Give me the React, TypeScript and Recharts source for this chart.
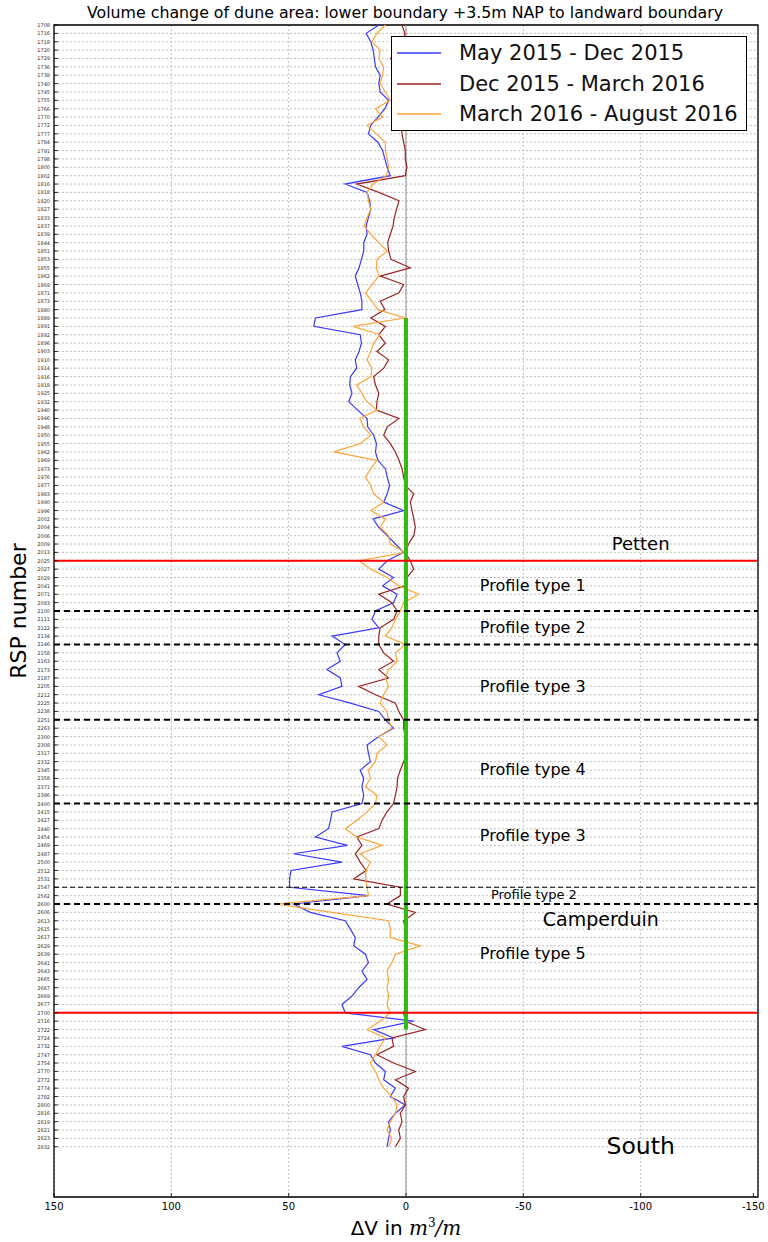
import {
  LineChart,
  Line,
  XAxis,
  YAxis,
  CartesianGrid,
  ReferenceLine,
  ReferenceDot,
  ReferenceArea,
  Legend,
  Customized,
} from "recharts";

const FONT = "DejaVu Sans, sans-serif";

const rspNumbers = [
  1708, 1716, 1718, 1720, 1729, 1736, 1738, 1740, 1745, 1755,
  1766, 1770, 1772, 1777, 1784, 1791, 1798, 1800, 1802, 1816,
  1818, 1820, 1827, 1833, 1837, 1839, 1844, 1851, 1853, 1855,
  1862, 1869, 1871, 1873, 1880, 1889, 1891, 1892, 1896, 1903,
  1910, 1914, 1916, 1918, 1925, 1932, 1940, 1946, 1948, 1950,
  1955, 1962, 1969, 1973, 1976, 1977, 1983, 1990, 1996, 2002,
  2004, 2006, 2009, 2013, 2025, 2027, 2029, 2041, 2071, 2083,
  2100, 2111, 2122, 2134, 2146, 2158, 2163, 2173, 2187, 2205,
  2212, 2225, 2238, 2251, 2263, 2300, 2308, 2317, 2332, 2345,
  2358, 2371, 2386, 2400, 2415, 2427, 2440, 2454, 2469, 2487,
  2500, 2512, 2531, 2547, 2562, 2600, 2606, 2613, 2615, 2617,
  2629, 2639, 2641, 2643, 2665, 2667, 2669, 2677, 2700, 2716,
  2722, 2724, 2732, 2747, 2754, 2770, 2772, 2774, 2782, 2800,
  2816, 2819, 2821, 2823, 2832,
];

// dV in m3/m per profile
const mayDec2015 = [
  11.6, 17, 15, 14, 13.5, 13, 11, 11.6, 11, 7.4,
  9, 12, 15, 16, 12, 10, 9, 8, 6.7, 26,
  16.6, 15.5, 15, 16, 17, 16.6, 18, 18, 19, 20,
  21.6, 20.6, 19.5, 18.8, 18.8, 38.6, 39.3, 19.5, 19, 20,
  21.6, 21, 23.7, 24, 23, 24.4, 20.6, 16.6, 16.3, 13.8,
  12.6, 13, 12, 8.8, 8, 7, 8, 9.5, 1, 14,
  11.6, 8, 4.5, 1, 8, 11.6, 5.3, 10, 3.8, 5.3,
  13, 14.5, 11.6, 31.5, 25.9, 29.4, 28, 33.7, 28, 27.3,
  37.2, 23.7, 11.6, 8.8, 5.3, 11.6, 16.6, 16, 15.2, 19.5,
  18, 18.8, 18, 18.8, 31.5, 32.2, 33, 38.6, 25, 47.9,
  27.3, 49, 49.6, 49.6, 16, 47.9, 40.8, 25.9, 23.7, 21.6,
  22.3, 17.3, 16, 18.8, 16.6, 20.2, 23, 27.3, 25.9, -3.3,
  13.8, 5.3, 27.3, 15.2, 13, 8.8, 9.5, 4.5, 6.7, 0.3,
  4.5, 7.4, 6.7, 7.4, 8.1,
];

const dec2015Mar2016 = [
  1.7, 0.5, 1, 3, 6.6, 3, 2, 2, 1.5, 2,
  1, 1.5, 2, 1.7, 1, 0.3, 0.3, -0.4, 0.3, 21,
  11.6, 3, 4, 5, 5.5, 6.7, 7.8, 7.4, 6.4, -1.8,
  11, 1, 3, 11, 9, 15, 8.8, 11.6, 8.8, 12.4,
  7.4, 9.5, 13.8, 13, 11.6, 12.4, 12.6, 3, 8, 9.5,
  6.7, 4.5, 3, 1.7, 1, 0.3, -3.3, -1.8, -2.6, -3.3,
  -4, -3.3, -1.1, 0.3, -1.8, -3.3, -0.4, 0.5, 11.6, 6,
  3.8, 5.3, 11, 11.6, 11.6, 9.5, 5.3, 11.6, 7.4, 20.2,
  13, 4.5, 3.1, 1, 1, 0.3, -0.4, -0.4, 1, 2.4,
  3.6, 3.8, 4.5, 5.3, 8.1, 10.2, 11.6, 20.9, 18.8, 21.6,
  19.5, 17, 22.3, 2.4, 2.4, 8.1, -4, 1, 0.3, 0,
  0, 0.3, 0, -0.5, 0, 0.3, 0, 0, 1, 0.3,
  -8.2, 6, 5.3, 12.4, 5.3, -4, 4.5, -1.1, 1, 0.3,
  2.4, 1.7, 3.1, 2.4, 4.5,
];

const mar2016Aug2016 = [
  8.8, 12.4, 14.5, 11, 11.6, 9.5, 10, 11, 8.8, 6.7,
  13, 10, 16.6, 12.6, 8.8, 8.8, 8, 7.4, 8.4, 14,
  16.6, 16, 15, 16.6, 17.8, 15, 11.6, 8, 12.4, 12.6,
  11.6, 14.5, 17.3, 14.5, 12, 0.3, 22.6, 11, 13.8, 15,
  16.6, 14.5, 15, 21, 18.8, 16.6, 12.4, 19.7, 18, 15,
  19.5, 30.8, 12.4, 15, 17.3, 15, 13.8, 9.5, 15, 8.8,
  11, 7.4, 6.7, 0.3, 20, 15, 8, 3, -5.4, 1,
  2.4, 4.5, 6, 8.8, 0.3, 4.5, 3.8, 7.4, 8.8, 7.4,
  9.5, 11, 8.1, 7.4, 6, 11.6, 8.1, 12.4, 13, 16,
  15.2, 17.3, 12.4, 13, 16.6, 20.9, 25.9, 20.9, 10.2, 19.5,
  15.2, 17, 17.3, 16.6, 16, 55.7, 31.5, 7.4, 6.7, 6.7,
  -6.1, 4.5, 6, 8.1, 7.4, 8.1, 7.4, 8.1, 6.7, 11,
  16.6, 8.8, 11, 13, 15.2, 13, 11.6, 9.5, 6, 3.8,
  4.5, 6.7, 8.1, 6, 7.4,
];

const seriesNames = [
  "May 2015 - Dec 2015",
  "Dec 2015 - March 2016",
  "March 2016 - August 2016",
];
const seriesColors = ["#3a3aff", "#9b2222", "#ffa436"];

const xTicks = [150, 100, 50, 0, -50, -100, -150];
const sectionBounds = [2025, 2700];
const profileBreaks = [2100, 2146, 2251, 2400, 2600];
const minorBreaks = [2547];
const stableStretches = [
  [1889, 2025],
  [2547, 2722],
];

// text labels: x in m3/m, row as position along the RSP axis
const annotations = [
  { text: "Petten", x: -100, row: 61.9, size: 18 },
  { text: "Profile type 1", x: -54, row: 66.9, size: 16 },
  { text: "Profile type 2", x: -54, row: 71.9, size: 16 },
  { text: "Profile type 3", x: -54, row: 79, size: 16 },
  { text: "Profile type 4", x: -54, row: 88.9, size: 16 },
  { text: "Profile type 3", x: -54, row: 96.8, size: 16 },
  { text: "Profile type 2", x: -54.5, row: 103.9, size: 13 },
  { text: "Camperduin", x: -83, row: 106.8, size: 19 },
  { text: "Profile type 5", x: -54, row: 110.9, size: 16 },
  { text: "South", x: -100, row: 133.9, size: 23.5 },
];

const rowOf = (rsp: number) => rspNumbers.indexOf(rsp);

const data = rspNumbers.map((rsp, i) => ({
  row: i,
  rsp,
  a: mayDec2015[i],
  b: dec2015Mar2016[i],
  c: mar2016Aug2016[i],
  stable: stableStretches.some(([s, e]) => rsp >= s && rsp <= e) ? 0 : null,
}));

const RspTick = ({ x, y, payload }: any) => (
  <g>
    <text
      x={x}
      y={y}
      textAnchor="end"
      dominantBaseline="central"
      fontSize={5}
      fill="#333"
      fontFamily={FONT}
    >
      {rspNumbers[payload.value]}
    </text>
    <line x1={x + 4} x2={x + 8} y1={y} y2={y} stroke="#000" strokeWidth={0.8} />
  </g>
);

const DvTick = ({ x, y, payload }: any) => (
  <g>
    <text x={x} y={y + 8} textAnchor="middle" fontSize={10} fill="#000" fontFamily={FONT}>
      {payload.value}
    </text>
    <line x1={x} x2={x} y1={y - 5} y2={y - 9} stroke="#000" strokeWidth={0.8} />
  </g>
);

const LegendBox = ({ payload }: any) => {
  const items = seriesNames.map((name) => (payload || []).find((p: any) => p.value === name)).filter(Boolean);
  return (
    <div
      style={{
        boxSizing: "border-box",
        width: 356,
        height: 95,
        border: "1px solid #000",
        background: "#fff",
        paddingTop: 1,
        fontFamily: FONT,
        fontSize: 21,
        color: "#111",
      }}
    >
      {items.map((p: any) => (
        <div key={p.value} style={{ display: "flex", alignItems: "center", height: 30.5 }}>
          <svg width={50} height={4} style={{ marginLeft: 5 }}>
            <line x1={0} y1={2} x2={44} y2={2} stroke={p.color} strokeWidth={1.3} />
          </svg>
          <span style={{ marginLeft: 12, whiteSpace: "nowrap" }}>{p.value}</span>
        </div>
      ))}
    </div>
  );
};

const Title = () => (
  <text x={405} y={18} textAnchor="middle" fontSize={15.8} fontFamily={FONT} fill="#000">
    Volume change of dune area: lower boundary +3.5m NAP to landward boundary
  </text>
);

export default function App() {
  return (
    <div style={{ position: "absolute", left: 0, top: 0, background: "#fff" }}>
      <LineChart
        width={768}
        height={1242}
        data={data}
        layout="vertical"
        margin={{ top: 25, right: 10, bottom: 0, left: 0 }}
      >
        <CartesianGrid stroke="#b0b0b0" strokeDasharray="2 2" strokeWidth={0.8} />
        <XAxis
          type="number"
          domain={[-150, 150]}
          reversed
          ticks={xTicks}
          height={45}
          axisLine={false}
          tickLine={false}
          tickSize={0}
          tickMargin={5}
          tick={<DvTick />}
          label={{
            content: (props: any) => {
              const vb = props.viewBox;
              const cx = vb.x + vb.width / 2;
              return (
                <text x={cx} y={vb.y + 38} textAnchor="middle" fontSize={20} fontFamily={FONT} fill="#000">
                  ΔV in{" "}
                  <tspan fontStyle="italic" fontFamily="DejaVu Serif, serif">m</tspan>
                  <tspan dy={-8} fontSize={12} fontFamily="DejaVu Serif, serif">3</tspan>
                  <tspan dy={8} fontStyle="italic" fontFamily="DejaVu Serif, serif">/m</tspan>
                </text>
              );
            },
          }}
        />
        <YAxis
          type="number"
          dataKey="row"
          domain={[0, 140]}
          ticks={rspNumbers.map((_, i) => i)}
          interval={0}
          width={54}
          axisLine={false}
          tickLine={false}
          tickSize={0}
          tickMargin={4}
          tick={<RspTick />}
          label={{
            content: (props: any) => {
              const vb = props.viewBox;
              const cy = vb.y + vb.height / 2;
              return (
                <text
                  x={18}
                  y={cy}
                  transform={`rotate(-90 18 ${cy})`}
                  textAnchor="middle"
                  dominantBaseline="central"
                  fontSize={22}
                  fontFamily={FONT}
                  fill="#000"
                >
                  RSP number
                </text>
              );
            },
          }}
        />
        <ReferenceLine x={0} stroke="#909090" strokeWidth={1} />
        <Line
          dataKey="a"
          name={seriesNames[0]}
          stroke={seriesColors[0]}
          strokeWidth={1.2}
          dot={false}
          isAnimationActive={false}
        />
        <Line
          dataKey="b"
          name={seriesNames[1]}
          stroke={seriesColors[1]}
          strokeWidth={1.2}
          dot={false}
          isAnimationActive={false}
        />
        <Line
          dataKey="c"
          name={seriesNames[2]}
          stroke={seriesColors[2]}
          strokeWidth={1.2}
          dot={false}
          isAnimationActive={false}
        />
        <Line
          dataKey="stable"
          name="stable"
          legendType="none"
          stroke="#33bb11"
          strokeWidth={4}
          dot={false}
          connectNulls={false}
          isAnimationActive={false}
        />
        {profileBreaks.map((r) => (
          <ReferenceLine key={r} y={rowOf(r)} stroke="#000" strokeWidth={2} strokeDasharray="6 4" />
        ))}
        {minorBreaks.map((r) => (
          <ReferenceLine key={r} y={rowOf(r)} stroke="#000" strokeWidth={1.1} strokeDasharray="5 3" />
        ))}
        {sectionBounds.map((r) => (
          <ReferenceLine key={r} y={rowOf(r)} stroke="#ff0000" strokeWidth={2} />
        ))}
        {annotations.map((a) => (
          <ReferenceDot
            key={a.text + a.row}
            x={a.x}
            y={a.row}
            r={1}
            fill="none"
            stroke="none"
            label={{
              value: a.text,
              position: "center",
              fontSize: a.size,
              fill: "#000",
              fontFamily: FONT,
            }}
          />
        ))}
        <ReferenceArea x1={-150} x2={150} y1={0} y2={140} fill="none" stroke="#000" strokeWidth={1.3} />
        <Legend
          layout="horizontal"
          verticalAlign="middle"
          align="center"
          wrapperStyle={{ top: 36, left: 391, width: 356, height: 95 }}
          content={<LegendBox />}
        />
        <Customized component={<Title />} />
      </LineChart>
    </div>
  );
}
